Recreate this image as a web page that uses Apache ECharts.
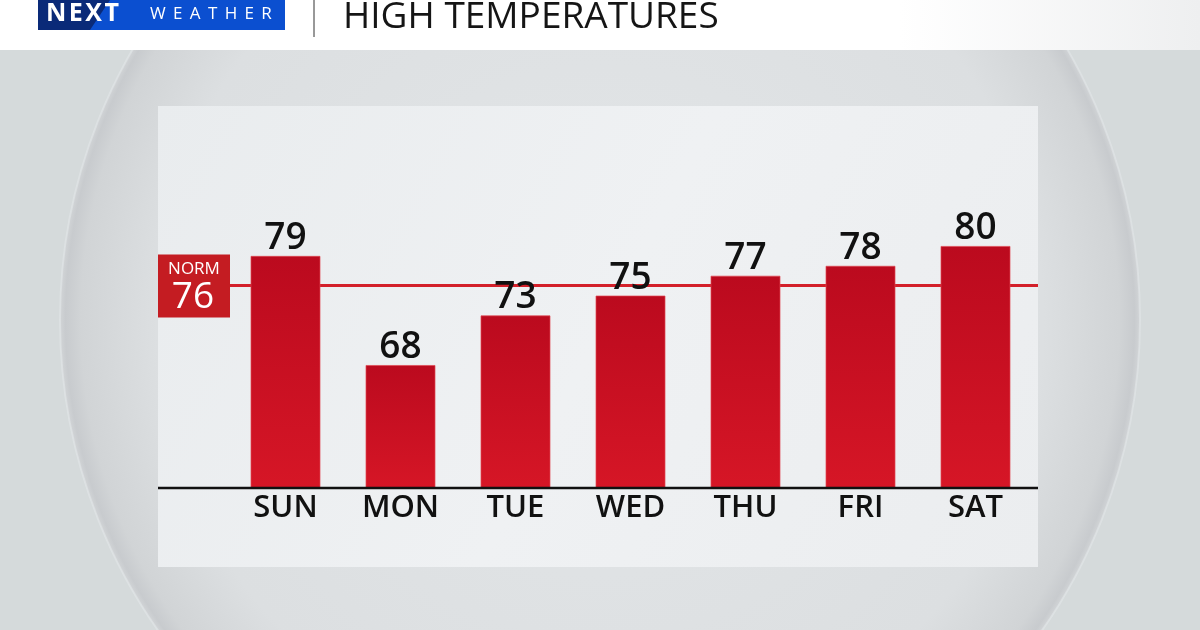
<!DOCTYPE html>
<html><head><meta charset="utf-8">
<script src="https://cdn.jsdelivr.net/npm/echarts@6/dist/echarts.min.js"></script>
<style>html,body{margin:0;padding:0;background:#d5dadb}#c{width:1200px;height:630px}</style>
</head><body><div id="c"></div>
<script>
const days = ['SUN', 'MON', 'TUE', 'WED', 'THU', 'FRI', 'SAT'];
const highs = [79, 68, 73, 75, 77, 78, 80];
const normal = 76;
const normLabel = 'NORM';
const titleText = 'HIGH TEMPERATURES';
const brandBold = 'NEXT';
const brandLight = 'WEATHER';
const yMin = 55.6, yMax = 94.1;

const FONT = '"Open Sans", Lato, sans-serif';
const spaced = (s, sp) => s.split('').join(sp);
const chart = echarts.init(document.getElementById('c'), null, {renderer: 'canvas'});

chart.setOption({
  animation: false,
  backgroundColor: '#d5dadb',
  grid: {left: 228, right: 167, top: 106, bottom: 142},
  xAxis: {
    type: 'category', data: days,
    axisLine: {show: false}, axisTick: {show: false},
    axisLabel: {fontSize: 31, color: '#111', fontFamily: FONT, fontWeight: 600, margin: 5}
  },
  yAxis: {type: 'value', min: yMin, max: yMax, show: false, splitLine: {show: false}},
  series: [{
    type: 'bar', data: highs, barWidth: 70, z: 3,
    itemStyle: {
      color: new echarts.graphic.LinearGradient(0, 0, 0, 1, [
        {offset: 0, color: '#bb0a1e'}, {offset: 1, color: '#d61626'}
      ]),
      borderColor: 'rgba(225,70,80,0.7)', borderWidth: 1
    },
    label: {show: true, position: 'top', distance: -1, fontSize: 37, color: '#111', fontFamily: FONT, fontWeight: 600}
  }],
  title: {
    text: titleText, left: 338, top: -6,
    textStyle: {fontSize: 37, fontWeight: 'normal', color: '#151515', fontFamily: FONT}
  }
});

const normY = chart.convertToPixel({yAxisIndex: 0}, normal);
const baseY = chart.convertToPixel({yAxisIndex: 0}, yMin);

chart.setOption({
  graphic: [
    {type: 'circle', z: -10, shape: {cx: 600, cy: 320, r: 540},
     style: {fill: new echarts.graphic.RadialGradient(0.5, 0.5, 0.5, [
       {offset: 0, color: '#e3e6e8'}, {offset: 0.82, color: '#dcdfe1'}, {offset: 0.96, color: '#d1d4d6'},
       {offset: 0.988, color: '#c8cbce'}, {offset: 1, color: '#d3d6d8'}
     ]), stroke: 'rgba(230,233,235,0.5)', lineWidth: 2}},
    {type: 'rect', z: -9, shape: {x: 0, y: 0, width: 1200, height: 50},
     style: {fill: new echarts.graphic.LinearGradient(0, 0, 1, 0, [
       {offset: 0, color: '#ffffff'}, {offset: 0.75, color: '#ffffff'}, {offset: 1, color: '#eeeff0'}
     ])}},
    {type: 'rect', z: -8, shape: {x: 158, y: 106, width: 880, height: 461},
     style: {fill: new echarts.graphic.LinearGradient(0, 0, 1, 1, [
       {offset: 0, color: '#e9ecee'}, {offset: 0.5, color: '#eff1f3'}, {offset: 1, color: '#ebedef'}
     ])}},
    // logo
    {type: 'rect', z: 5, shape: {x: 38, y: 0, width: 247, height: 30}, style: {fill: '#0b4fd0'}},
    {type: 'polygon', z: 6, shape: {points: [[38, 0], [110, 0], [90, 30], [38, 30]]}, style: {fill: '#0a2a78'}},
    {type: 'text', z: 7, left: 46, top: 1, style: {text: spaced(brandBold, '\u200A'), fontSize: 25, fontWeight: 'bold', fill: '#fff', fontFamily: FONT}},
    {type: 'text', z: 7, left: 150, top: 6, style: {text: spaced(brandLight, '\u2009\u2009\u200A'), fontSize: 17, fill: '#fff', fontFamily: FONT}},
    {type: 'line', z: 5, shape: {x1: 314, y1: 0, x2: 314, y2: 37}, style: {stroke: '#333', lineWidth: 1}},
    // norm line
    {type: 'line', z: 1, shape: {x1: 229, y1: normY, x2: 1038, y2: normY}, style: {stroke: '#d3202a', lineWidth: 3}},
    {type: 'rect', z: 4, shape: {x: 158, y: normY - 31, width: 72, height: 63}, style: {fill: '#c41c22'}},
    {type: 'text', z: 5, x: 194, y: normY - 16, style: {text: normLabel, fontSize: 17, fill: '#fff', fontFamily: FONT, align: 'center', verticalAlign: 'middle'}},
    {type: 'text', z: 5, x: 193, y: normY + 12, style: {text: String(normal), fontSize: 37, fill: '#fff', fontFamily: FONT, align: 'center', verticalAlign: 'middle'}},
    // baseline
    {type: 'line', z: 6, shape: {x1: 158, y1: baseY, x2: 1038, y2: baseY}, style: {stroke: '#111', lineWidth: 2.5}}
  ]
});
</script></body></html>
